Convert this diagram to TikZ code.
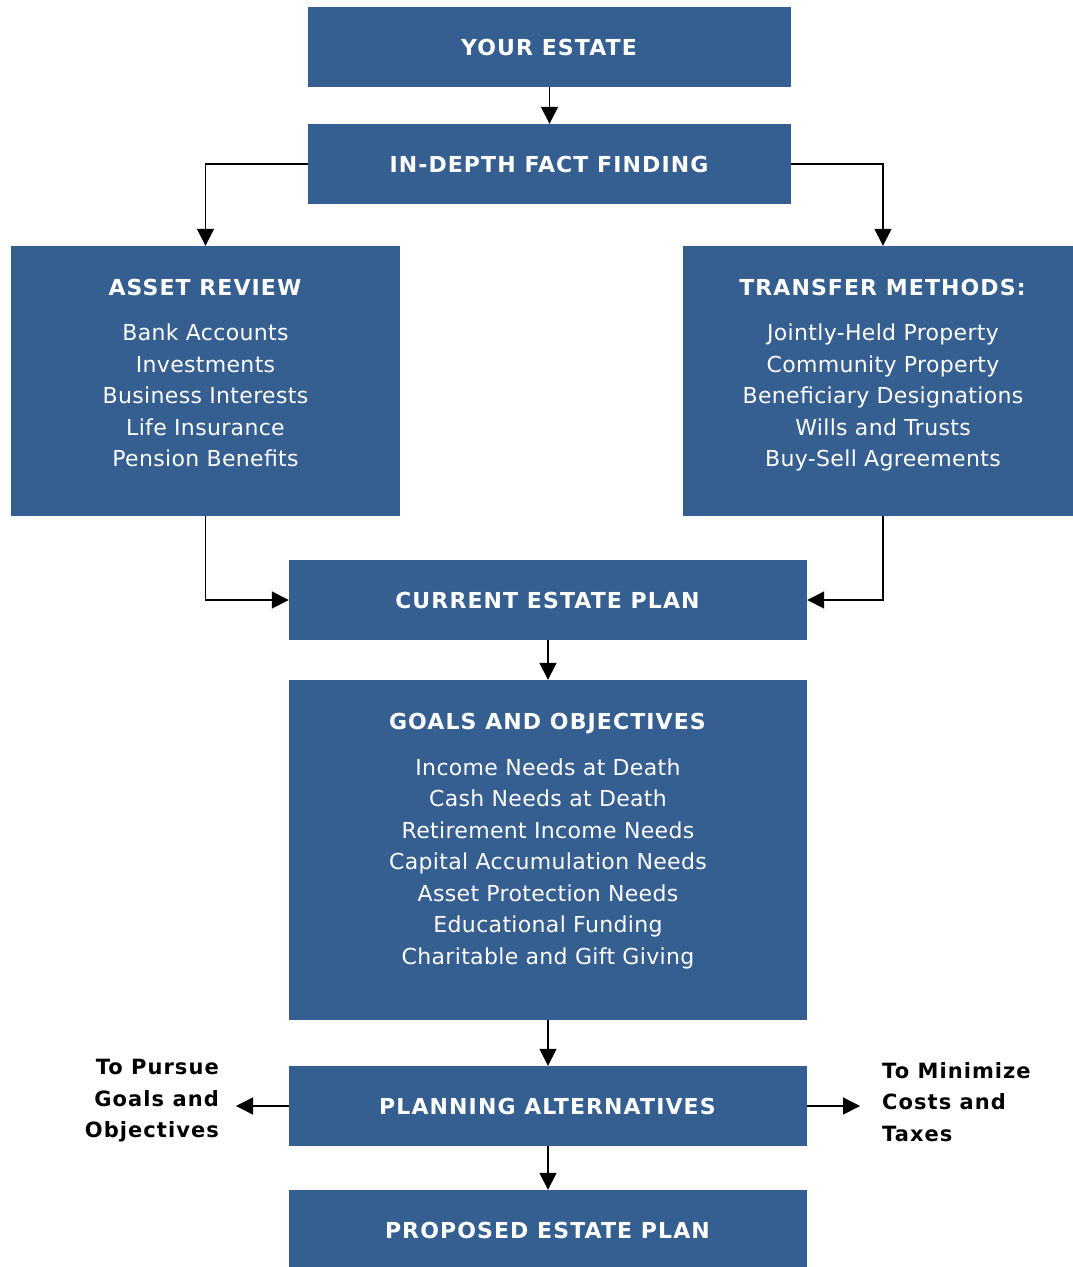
\documentclass[tikz,border=0pt]{standalone}
\usepackage{fontspec}
\setmainfont{DejaVu Sans}[LetterSpace=1.5, BoldFeatures={LetterSpace=5}]
\usetikzlibrary{arrows.meta, positioning}
\definecolor{EstateBlue}{HTML}{365F91}

\begin{document}
\begin{tikzpicture}[x=1pt, y=-1pt,
    box/.style={fill=EstateBlue, text=white, align=center, inner sep=0pt, font=\fontsize{22}{31.5}\selectfont},
    flowline/.style={line width=1.5pt, -{Triangle[length=17pt, width=17pt]}},
    sidetext/.style={font=\fontsize{21}{31.5}\selectfont\bfseries, inner sep=0pt}]
    \useasboundingbox (0,0) rectangle (1073,1267);

    % Main column of boxes
    \node[box, minimum width=483pt, minimum height=80pt] (estate) at (549.5,47) {\textbf{YOUR ESTATE}};
    \node[box, minimum width=483pt, minimum height=80pt] (fact) at (549.5,164) {\textbf{IN-DEPTH FACT FINDING}};

    % The two review boxes either side
    \node[box, minimum width=389pt, minimum height=270pt] (assets) at (205.5,381) {\textbf{ASSET REVIEW}\\[14pt]Bank Accounts\\Investments\\Business Interests\\Life Insurance\\Pension Benefits\\[-15.5pt]\mbox{}};
    \node[box, minimum width=400pt, minimum height=270pt] (transfer) at (883,381) {\textbf{TRANSFER METHODS:}\\[14pt]Jointly-Held Property\\Community Property\\Beneficiary Designations\\Wills and Trusts\\Buy-Sell Agreements\\[-15.5pt]\mbox{}};

    \node[box, minimum width=518pt, minimum height=80pt] (current) at (548,600) {\textbf{CURRENT ESTATE PLAN}};
    \node[box, minimum width=518pt, minimum height=340pt] (goals) at (548,850) {\textbf{GOALS AND OBJECTIVES}\\[14pt]Income Needs at Death\\Cash Needs at Death\\Retirement Income Needs\\Capital Accumulation Needs\\Asset Protection Needs\\Educational Funding\\Charitable and Gift Giving\\[-9.5pt]\mbox{}};
    \node[box, minimum width=518pt, minimum height=80pt] (planning) at (548,1106) {\textbf{PLANNING ALTERNATIVES}};
    \node[box, minimum width=518pt, minimum height=80pt] (proposed) at (548,1230) {\textbf{PROPOSED ESTATE PLAN}};

    % Side notes next to the alternatives
    \node[sidetext, anchor=east, align=right] (pursue) at (219,1101) {To Pursue\\Goals and\\Objectives};
    \node[sidetext, anchor=west, align=left] (minimize) at (882,1102) {To Minimize\\Costs and\\Taxes};
    \coordinate (pursueend) at (236,1106);
    \coordinate (minimizeend) at (860,1106);

    % Arrows
    \draw[flowline] (estate) -- (fact);
    \draw[flowline] (fact.west) -| (assets.north);
    \draw[flowline] (fact.east) -| (transfer.north);
    \draw[flowline] (assets.south) |- (current.west);
    \draw[flowline] (transfer.south) |- (current.east);
    \draw[flowline] (current) -- (goals);
    \draw[flowline] (goals) -- (planning);
    \draw[flowline] (planning) -- (proposed);
    \draw[flowline] (planning.west) -- (pursueend);
    \draw[flowline] (planning.east) -- (minimizeend);
\end{tikzpicture}
\end{document}
